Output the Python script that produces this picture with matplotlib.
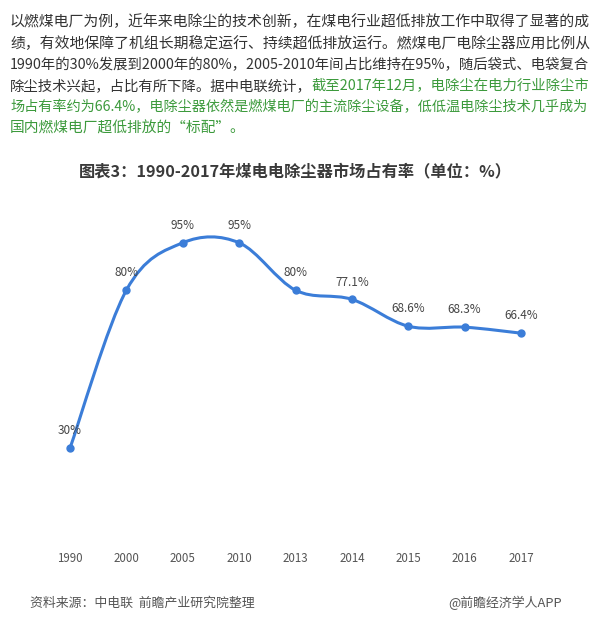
import numpy as np
import matplotlib
matplotlib.use("Agg")
import matplotlib.pyplot as plt
from matplotlib.path import Path
from matplotlib.patches import PathPatch

plt.rcParams['font.family'] = ['Noto Sans CJK SC', 'DejaVu Sans']

# 数据
years = ['1990', '2000', '2005', '2010', '2013', '2014', '2015', '2016', '2017']
share = [30, 80, 95, 95, 80, 77.1, 68.6, 68.3, 66.4]

# (黑色部分, 绿色部分)
para_lines = [
    ('以燃煤电厂为例，近年来电除尘的技术创新，在煤电行业超低排放工作中取得了显著的成', ''),
    ('绩，有效地保障了机组长期稳定运行、持续超低排放运行。燃煤电厂电除尘器应用比例从', ''),
    ('1990年的30%发展到2000年的80%，2005-2010年间占比维持在95%，随后袋式、电袋复合', ''),
    ('除尘技术兴起，占比有所下降。据中电联统计，', '截至2017年12月，电除尘在电力行业除尘市'),
    ('', '场占有率约为66.4%，电除尘器依然是燃煤电厂的主流除尘设备，低低温电除尘技术几乎成为'),
    ('', '国内燃煤电厂超低排放的“标配”。'),
]
title = '图表3：1990-2017年煤电电除尘器市场占有率（单位：%）'
source = '资料来源：中电联  前瞻产业研究院整理'
brand = '@前瞻经济学人APP'

W, H = 600, 639
fig = plt.figure(figsize=(W / 100, H / 100), dpi=100)
fig.patch.set_facecolor('white')
renderer = fig.canvas.get_renderer()

text_col = '#333333'
green = '#3c9a3c'

# 正文段落 (两端对齐: 每行按宽度微调字号)
left = 10
target = 580
base_fs = 10.6
y0 = 22
dy = 21.3
for i, (black, grn) in enumerate(para_lines):
    y = 1 - (y0 + i * dy) / H
    parts = []
    if black:
        parts.append(fig.text(left / W, y, black, fontsize=base_fs, color=text_col,
                              va='center', ha='left'))
    if grn:
        parts.append(fig.text(left / W, y, grn, fontsize=base_fs, color=green,
                              va='center', ha='left'))
    if i < len(para_lines) - 1:
        total = sum(p.get_window_extent(renderer).width for p in parts)
        fs = base_fs * target / total
        for p in parts:
            p.set_fontsize(fs)
    xpos = left
    for p in parts:
        p.set_x(xpos / W)
        xpos += p.get_window_extent(renderer).width

fig.text(295 / W, 1 - 171 / H, title, fontsize=11.7, fontweight='bold', color='#3a3a3a',
         ha='center', va='center')

# 折线图区域
x = np.arange(len(years))
ax = fig.add_axes([41.8 / W, 96 / H, 507.4 / W, 316 / H])
ax.set_xlim(-0.5, len(years) - 0.5)
ax.set_ylim(0, 100)
ax.axis('off')

# 平滑曲线 (Catmull-Rom -> Bezier)
pts = np.column_stack([x, share])
ext = np.vstack([pts[0], pts, pts[-1]])
verts = [tuple(pts[0])]
codes = [Path.MOVETO]
for i in range(len(pts) - 1):
    p0, p1, p2, p3 = ext[i], ext[i + 1], ext[i + 2], ext[i + 3]
    c1 = p1 + (p2 - p0) / 6
    c2 = p2 - (p3 - p1) / 6
    verts += [tuple(c1), tuple(c2), tuple(p2)]
    codes += [Path.CURVE4] * 3
line_col = '#3b7dd8'
ax.add_patch(PathPatch(Path(verts, codes), fill=False, edgecolor=line_col, lw=2.2,
                       clip_on=False, capstyle='round'))
ax.plot(x, share, 'o', color=line_col, markersize=5, clip_on=False)

for xi, v in zip(x, share):
    ax.annotate(f'{v:g}%', (xi, v), xytext=(0, 12.5), textcoords='offset points',
                ha='center', va='center', fontsize=8.5, color='#454545')

for xi, yr in zip(x, years):
    ax.annotate(yr, (xi, 0), xytext=(0, -11.5), textcoords='offset points',
                ha='center', va='center', fontsize=8.3, color='#555555', annotation_clip=False)

fig.text(30 / W, 1 - 603 / H, source, fontsize=9.3, color='#555555', style='italic',
         ha='left', va='center')
fig.text(562 / W, 1 - 603 / H, brand, fontsize=9.3, color='#555555',
         ha='right', va='center')

fig.savefig('out.png', dpi=100)
